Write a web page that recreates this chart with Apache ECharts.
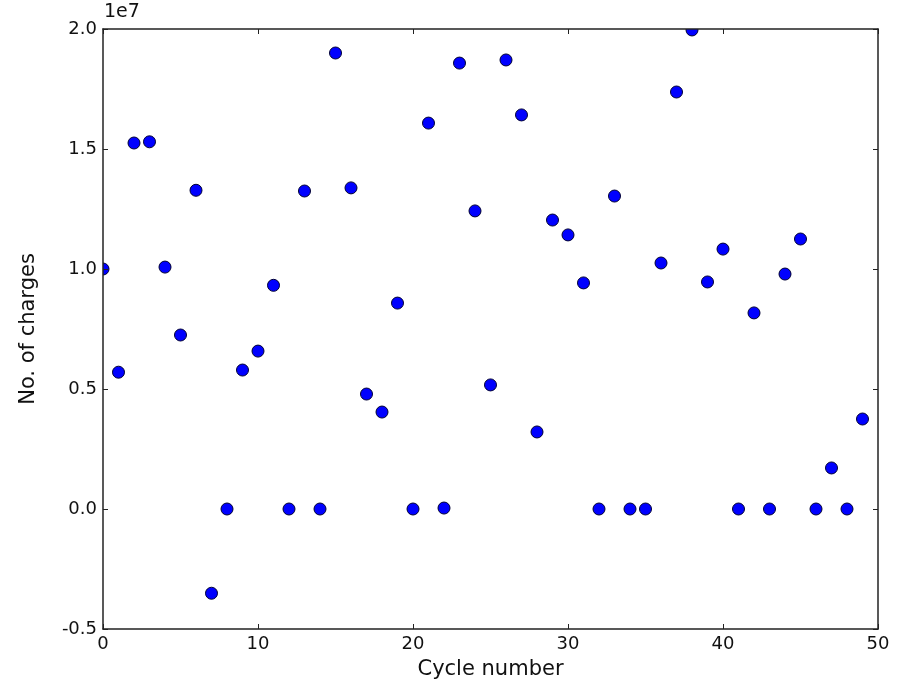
<!DOCTYPE html>
<html>
<head>
<meta charset="utf-8">
<script src="https://cdn.jsdelivr.net/npm/echarts@6/dist/echarts.min.js"></script>
<style>
  html, body { margin: 0; padding: 0; background: #fff; }
  #chart { width: 900px; height: 685px; }
</style>
</head>
<body>
<div id="chart"></div>
<script>
// cycle number on x, charges on y (raw values, axis shows them /1e7)
var cycles = [];
for (var i = 0; i < 50; i++) cycles.push(i);
var charges = [
  1.00e7, 0.57e7, 1.525e7, 1.53e7, 1.008e7, 0.725e7, 1.328e7, -0.351e7, 0, 0.579e7,
  0.658e7, 0.932e7, 0, 1.325e7, 0, 1.90e7, 1.338e7, 0.479e7, 0.404e7, 0.858e7,
  0, 1.608e7, 0.004e7, 1.858e7, 1.242e7, 0.517e7, 1.871e7, 1.642e7, 0.321e7, 1.204e7,
  1.142e7, 0.942e7, 0, 1.304e7, 0, 0, 1.025e7, 1.7375e7, 1.996e7, 0.946e7,
  1.083e7, 0, 0.817e7, 0, 0.979e7, 1.125e7, 0, 0.171e7, 0, 0.375e7
];
var xTicks = [0, 10, 20, 30, 40, 50];
var yTicks = [-0.5, 0.0, 0.5, 1.0, 1.5, 2.0];

var points = cycles.map(function (c, i) { return [c, charges[i]]; });

var font = 'DejaVu Sans';
var ink = '#111';
var frame = { show: true, onZero: false, lineStyle: { color: '#222', width: 1.5 } };
var tick = { show: true, inside: true, length: 5, lineStyle: { color: '#222' } };

// white masks outside the plot box so markers on the edge get cut like in matplotlib
var W = 900, H = 685, L = 103, T = 29, R = 878, B = 629;
function mask(x, y, w, h) {
  return { type: 'rect', zlevel: 1, silent: true, shape: { x: x, y: y, width: w, height: h }, style: { fill: '#fff' } };
}

var chart = echarts.init(document.getElementById('chart'));
chart.setOption({
  backgroundColor: '#fff',
  animation: false,
  grid: { left: L, top: T, right: W - R, bottom: H - B },
  xAxis: [
    {
      type: 'value', min: 0, max: 50, interval: 10, zlevel: 2,
      name: 'Cycle number', nameLocation: 'middle', nameGap: 30,
      nameTextStyle: { fontFamily: font, fontSize: 21, color: ink },
      axisLine: frame, axisTick: tick, splitLine: { show: false },
      axisLabel: { fontFamily: font, fontSize: 18, color: ink, margin: 6 }
    },
    {
      type: 'value', position: 'top', min: 0, max: 50, interval: 10, zlevel: 2,
      axisLine: frame, axisTick: tick, splitLine: { show: false },
      axisLabel: { show: false }
    }
  ],
  yAxis: [
    {
      type: 'value', min: -0.5e7, max: 2.0e7, interval: 0.5e7, zlevel: 2,
      name: 'No. of charges', nameLocation: 'middle', nameGap: 64,
      nameTextStyle: { fontFamily: font, fontSize: 21, color: ink },
      axisLine: frame, axisTick: tick, splitLine: { show: false },
      axisLabel: {
        fontFamily: font, fontSize: 18, color: ink, margin: 6,
        formatter: function (v) { return (v / 1e7).toFixed(1); }
      }
    },
    {
      type: 'value', position: 'right', min: -0.5e7, max: 2.0e7, interval: 0.5e7, zlevel: 2,
      axisLine: frame, axisTick: tick, splitLine: { show: false },
      axisLabel: { show: false }
    }
  ],
  graphic: [
    mask(0, 0, L, H),
    mask(0, 0, W, T),
    mask(R, 0, W - R, H),
    mask(0, B, W, H - B),
    {
      type: 'text', left: 104, top: 3, zlevel: 2,
      style: { text: '1e7', fontFamily: font, fontSize: 19, fill: ink }
    }
  ],
  series: [
    {
      type: 'scatter',
      data: points,
      symbolSize: 12,
      clip: true,
      itemStyle: { color: '#0000ff', borderColor: '#000033', borderWidth: 1, opacity: 1 }
    }
  ]
});
</script>
</body>
</html>
